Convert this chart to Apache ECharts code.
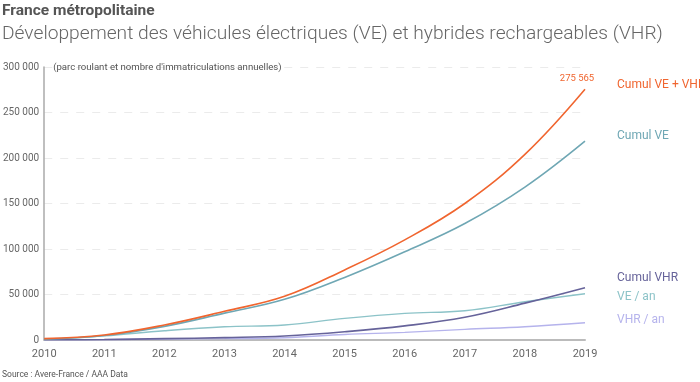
<!DOCTYPE html>
<html><head><meta charset="utf-8">
<script src="https://cdn.jsdelivr.net/npm/echarts@6/dist/echarts.min.js"></script>
<style>html,body{margin:0;padding:0;background:#fff}#c{width:700px;height:382px}</style>
</head><body><div id="c"></div>
<script>
const years = ['2010','2011','2012','2013','2014','2015','2016','2017','2018','2019'];
const cumulTotal = [1500, 5500, 16500, 31500, 48000, 77000, 110000, 150000, 204000, 275565];
const cumulVE = [1000, 5000, 15000, 29500, 44700, 68800, 97000, 128000, 168000, 218500];
const cumulVHR = [200, 500, 1500, 2600, 4400, 9000, 15500, 25000, 40500, 57500];
const veAn = [500, 4500, 10200, 14500, 16500, 23800, 29300, 32200, 42100, 50900];
const vhrAn = [100, 300, 1000, 1500, 2500, 6000, 8400, 11700, 14600, 19000];
const yTicks = [0, 50000, 100000, 150000, 200000, 250000, 300000];

const fmt = v => String(Math.round(v)).replace(/\B(?=(\d{3})+(?!\d))/g, ' ');
const font = 'Roboto, sans-serif';

function mk(name, data, color, width, dy, z) {
  return {
    name, type: 'line', data, smooth: 0.4, symbol: 'none', z,
    lineStyle: { color, width },
    itemStyle: { color },
    endLabel: {
      show: true, formatter: name, color, fontFamily: font, fontSize: 12,
      position: 'right', distance: 32, offset: [0, dy]
    },
    emphasis: { disabled: true }
  };
}

const chart = echarts.init(document.getElementById('c'), null, { renderer: 'canvas' });
const totalSeries = mk('Cumul VE + VHR', cumulTotal, '#f0652f', 1.6, -4, 5);
const lastIdx = cumulTotal.length - 1;
totalSeries.markPoint = {
  symbol: 'circle', symbolSize: 0, silent: true, animation: false,
  data: [{ coord: [lastIdx, cumulTotal[lastIdx]], value: cumulTotal[lastIdx] }],
  label: { show: true, position: 'top', distance: 6, offset: [-8, 0], formatter: p => fmt(p.value), color: '#f0652f', fontSize: 9.5, fontFamily: font }
};

chart.setOption({
  animation: false,
  title: [
    { text: 'France métropolitaine', left: 2, top: 3, padding: 0, textStyle: { fontFamily: font, fontWeight: 'bold', fontSize: 15.5, color: '#555' } },
    { text: 'Développement des véhicules électriques (VE) et hybrides rechargeables (VHR)', left: 2, top: 25, padding: 0, textStyle: { fontFamily: font, fontWeight: 300, fontSize: 19.2, color: '#666' } },
    { text: 'Source : Avere-France / AAA Data', left: 2, bottom: 3, padding: 0, textStyle: { fontFamily: font, fontWeight: 'normal', fontSize: 8.5, color: '#555' } }
  ],
  grid: { left: 41, right: 115, top: 67, bottom: 42, containLabel: false },
  xAxis: {
    type: 'category', data: years, boundaryGap: false,
    axisLine: { lineStyle: { color: '#bbb', width: 2 } },
    axisTick: { show: false },
    axisLabel: { color: '#666', fontFamily: font, fontSize: 11, margin: 9 },
    splitLine: { show: false }
  },
  yAxis: {
    type: 'value', min: 0, max: 300000, interval: 50000,
    name: "(parc roulant et nombre d'immatriculations annuelles)",
    nameLocation: 'end', nameGap: -1,
    nameTextStyle: { align: 'left', verticalAlign: 'middle', color: '#555', fontFamily: font, fontSize: 9.6, padding: [0, 0, 0, 9] },
    axisLine: { show: true, lineStyle: { color: '#aaa', width: 1.5 } },
    axisTick: { show: false },
    axisLabel: { color: '#666', fontFamily: font, fontSize: 10, margin: 5, formatter: v => yTicks.includes(v) ? fmt(v) : '' },
    splitLine: { lineStyle: { color: '#ebebeb', type: [8, 8] } }
  },
  series: [
    totalSeries,
    mk('Cumul VE', cumulVE, '#6fa7b4', 1.6, -5, 4),
    mk('Cumul VHR', cumulVHR, '#66639a', 1.6, -10, 3),
    mk('VE / an', veAn, '#8cc3c8', 1.4, 3, 2),
    mk('VHR / an', vhrAn, '#b5b3ec', 1.4, -3, 1)
  ]
});
</script></body></html>
